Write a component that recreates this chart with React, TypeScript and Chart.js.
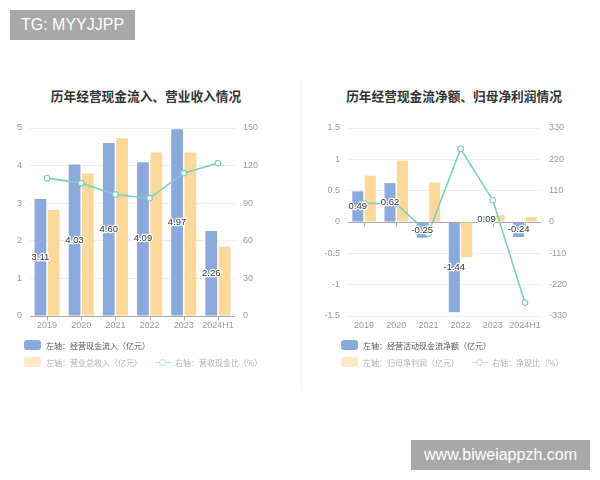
import React, { useEffect, useRef } from "react";
import { Chart, registerables } from "chart.js";
Chart.register(...registerables);

const categories = ["2019", "2020", "2021", "2022", "2023", "2024H1"];
// left panel
const cashInflow = [3.11, 4.03, 4.6, 4.09, 4.97, 2.26];
const totalRevenue = [2.82, 3.79, 4.73, 4.35, 4.35, 1.84];
const cashRevenueRatio = [110, 106, 97, 94, 114, 122];
const leftAxisTicks = [0, 1, 2, 3, 4, 5];
const leftRightAxisTicks = [0, 30, 60, 90, 120, 150];
// right panel
const netCashFlow = [0.49, 0.62, -0.25, -1.44, 0.09, -0.24];
const netProfit = [0.74, 0.98, 0.63, -0.56, 0.11, 0.08];
const netCashRatio = [66, 64, -40, 257, 77, -283];
const rightAxisTicks = [-1.5, -1, -0.5, 0, 0.5, 1, 1.5];
const rightRightAxisTicks = [-330, -220, -110, 0, 110, 220, 330];

const BLUE = "#8ba9db";
const YELLOW = "#fdd89b";
const TEAL = "#7dcfbe";
const TICK_FONT = { family: "'Liberation Sans', Arial, sans-serif", size: 9 };
const CJK = "'Noto Sans CJK SC', 'Noto Sans', sans-serif";

const zeroTicks = {
  id: "zeroTicks",
  beforeDatasetsDraw(chart: any) {
    const xs = chart.scales.x;
    const ys = chart.scales.y;
    const y0 = Math.round(ys.getPixelForValue(0)) + 0.5;
    const ctx = chart.ctx;
    ctx.save();
    ctx.strokeStyle = "#aaa";
    ctx.lineWidth = 1;
    ctx.beginPath();
    chart.data.labels.forEach((_: any, i: number) => {
      const px = Math.round(xs.getPixelForValue(i)) + 0.5;
      ctx.moveTo(px, y0);
      ctx.lineTo(px, y0 + 4);
    });
    ctx.stroke();
    ctx.restore();
  },
};

const barLabels = {
  id: "barLabels",
  afterDatasetsDraw(chart: any) {
    const meta = chart.getDatasetMeta(0);
    const data = chart.data.datasets[0].data as number[];
    const ctx = chart.ctx;
    ctx.save();
    ctx.font = "9.5px 'Liberation Sans', Arial, sans-serif";
    ctx.textAlign = "center";
    ctx.textBaseline = "middle";
    ctx.lineJoin = "round";
    meta.data.forEach((el: any, i: number) => {
      const p = el.getProps(["x", "y", "base"], true);
      const cy = (p.y + p.base) / 2;
      const txt = data[i].toFixed(2);
      ctx.lineWidth = 2.5;
      ctx.strokeStyle = "#fff";
      ctx.strokeText(txt, p.x, cy);
      ctx.fillStyle = "#333";
      ctx.fillText(txt, p.x, cy);
    });
    ctx.restore();
  },
};

function buildConfig(
  bar1: number[],
  bar2: number[],
  line: number[],
  yTicks: number[],
  y1Ticks: number[],
  yWidth: number,
  y1Width: number
): any {
  return {
    type: "bar",
    data: {
      labels: categories,
      datasets: [
        {
          type: "bar",
          data: bar1,
          backgroundColor: BLUE,
          yAxisID: "y",
          order: 1,
          categoryPercentage: 0.78,
          barPercentage: 0.88,
        },
        {
          type: "bar",
          data: bar2,
          backgroundColor: YELLOW,
          yAxisID: "y",
          order: 2,
          categoryPercentage: 0.78,
          barPercentage: 0.88,
        },
        {
          type: "line",
          data: line,
          borderColor: TEAL,
          borderWidth: 1.6,
          pointRadius: 2.8,
          pointBorderWidth: 1.2,
          pointBackgroundColor: "#fff",
          pointBorderColor: TEAL,
          yAxisID: "y1",
          order: 0,
          tension: 0,
        },
      ],
    },
    options: {
      responsive: false,
      animation: false,
      events: [],
      layout: { padding: { top: 18, left: 0, right: 0, bottom: 0 } },
      plugins: { legend: { display: false }, tooltip: { enabled: false } },
      scales: {
        x: {
          grid: { display: false, drawTicks: false },
          border: { display: false },
          ticks: { color: "#999", font: TICK_FONT, padding: 4, maxRotation: 0, autoSkip: false },
          afterFit: (s: any) => {
            s.height = 24;
          },
        },
        y: {
          position: "left",
          min: yTicks[0],
          max: yTicks[yTicks.length - 1],
          afterBuildTicks: (s: any) => {
            s.ticks = yTicks.map((v) => ({ value: v }));
          },
          ticks: { color: "#999", font: TICK_FONT, padding: 8, callback: (v: any) => String(v) },
          grid: {
            drawTicks: false,
            color: (c: any) => (c.tick && c.tick.value === 0 ? "#aaa" : "#eeeeee"),
          },
          border: { display: false },
          afterFit: (s: any) => {
            s.width = yWidth;
          },
        },
        y1: {
          position: "right",
          min: y1Ticks[0],
          max: y1Ticks[y1Ticks.length - 1],
          afterBuildTicks: (s: any) => {
            s.ticks = y1Ticks.map((v) => ({ value: v }));
          },
          ticks: { color: "#999", font: TICK_FONT, padding: 8, callback: (v: any) => String(v) },
          grid: { display: false, drawTicks: false },
          border: { display: false },
          afterFit: (s: any) => {
            s.width = y1Width;
          },
        },
      },
    },
    plugins: [zeroTicks, barLabels],
  };
}

function ChartCanvas({ config, style }: { config: () => any; style: React.CSSProperties }) {
  const ref = useRef<HTMLCanvasElement | null>(null);
  useEffect(() => {
    if (!ref.current) return;
    const chart = new Chart(ref.current, config());
    return () => chart.destroy();
  }, []);
  return (
    <div style={{ position: "absolute", ...style }}>
      <canvas ref={ref} width={300} height={230} style={{ display: "block", width: 300, height: 230 }} />
    </div>
  );
}

function Swatch({ color }: { color: string }) {
  return (
    <span
      style={{
        display: "inline-block",
        width: 17,
        height: 10,
        borderRadius: 3,
        background: color,
        marginRight: 5,
        flex: "none",
      }}
    />
  );
}

function LineIcon({ color }: { color: string }) {
  return (
    <span style={{ position: "relative", display: "inline-block", width: 16, height: 10, marginRight: 4, flex: "none" }}>
      <span style={{ position: "absolute", left: 0, right: 0, top: 4.5, height: 1.2, background: color }} />
      <span
        style={{
          position: "absolute",
          left: 4,
          top: 1.5,
          width: 5,
          height: 5,
          borderRadius: "50%",
          border: `1.2px solid ${color}`,
          background: "#fff",
        }}
      />
    </span>
  );
}

const rowStyle = (left: number, top: number, color: string): React.CSSProperties => ({
  position: "absolute",
  left,
  top,
  height: 12,
  display: "flex",
  alignItems: "center",
  fontSize: 8,
  fontFamily: CJK,
  color,
  whiteSpace: "nowrap",
});

function Legend({
  left,
  first,
  second,
  third,
}: {
  left: number;
  first: string;
  second: string;
  third: string;
}) {
  return (
    <>
      <div style={rowStyle(left, 339, "#555")}>
        <Swatch color={BLUE} />
        <span>{first}</span>
      </div>
      <div style={rowStyle(left, 356, "#b0b0b0")}>
        <Swatch color="#fde9c9" />
        <span style={{ marginRight: 13 }}>{second}</span>
        <LineIcon color="#b5e3da" />
        <span>{third}</span>
      </div>
    </>
  );
}

const titleStyle = (cx: number): React.CSSProperties => ({
  position: "absolute",
  left: cx - 150,
  width: 300,
  top: 87,
  textAlign: "center",
  fontFamily: CJK,
  fontWeight: 700,
  fontSize: 12.7,
  color: "#333",
  lineHeight: "18px",
});

const boxStyle: React.CSSProperties = {
  position: "absolute",
  background: "#a8a8a8",
  color: "#fff",
  fontFamily: "'Liberation Sans', Arial, sans-serif",
  fontSize: 16,
  display: "flex",
  alignItems: "center",
  justifyContent: "center",
};

export default function App() {
  return (
    <div
      style={{
        position: "fixed",
        left: 0,
        top: 0,
        width: 600,
        height: 480,
        background: "#fff",
        overflow: "hidden",
      }}
    >
      <div style={{ ...boxStyle, left: 10, top: 10, width: 125, height: 30 }}>TG: MYYJJPP</div>
      <div style={{ position: "absolute", left: 301, top: 80, width: 1, height: 310, background: "#f5f5f5" }} />
      <div style={titleStyle(146)}>历年经营现金流入、营业收入情况</div>
      <div style={titleStyle(454)}>历年经营现金流净额、归母净利润情况</div>
      <ChartCanvas
        style={{ left: 0, top: 110 }}
        config={() => buildConfig(cashInflow, totalRevenue, cashRevenueRatio, leftAxisTicks, leftRightAxisTicks, 30, 65)}
      />
      <ChartCanvas
        style={{ left: 300, top: 110 }}
        config={() => buildConfig(netCashFlow, netProfit, netCashRatio, rightAxisTicks, rightRightAxisTicks, 48, 59)}
      />
      <Legend left={24} first="左轴：经营现金流入（亿元）" second="左轴：营业总收入（亿元）" third="右轴：营收现金比（%）" />
      <Legend
        left={341}
        first="左轴：经营活动现金流净额（亿元）"
        second="左轴：归母净利润（亿元）"
        third="右轴：净现比（%）"
      />
      <div style={{ ...boxStyle, left: 411, top: 440, width: 179, height: 30 }}>www.biweiappzh.com</div>
    </div>
  );
}
